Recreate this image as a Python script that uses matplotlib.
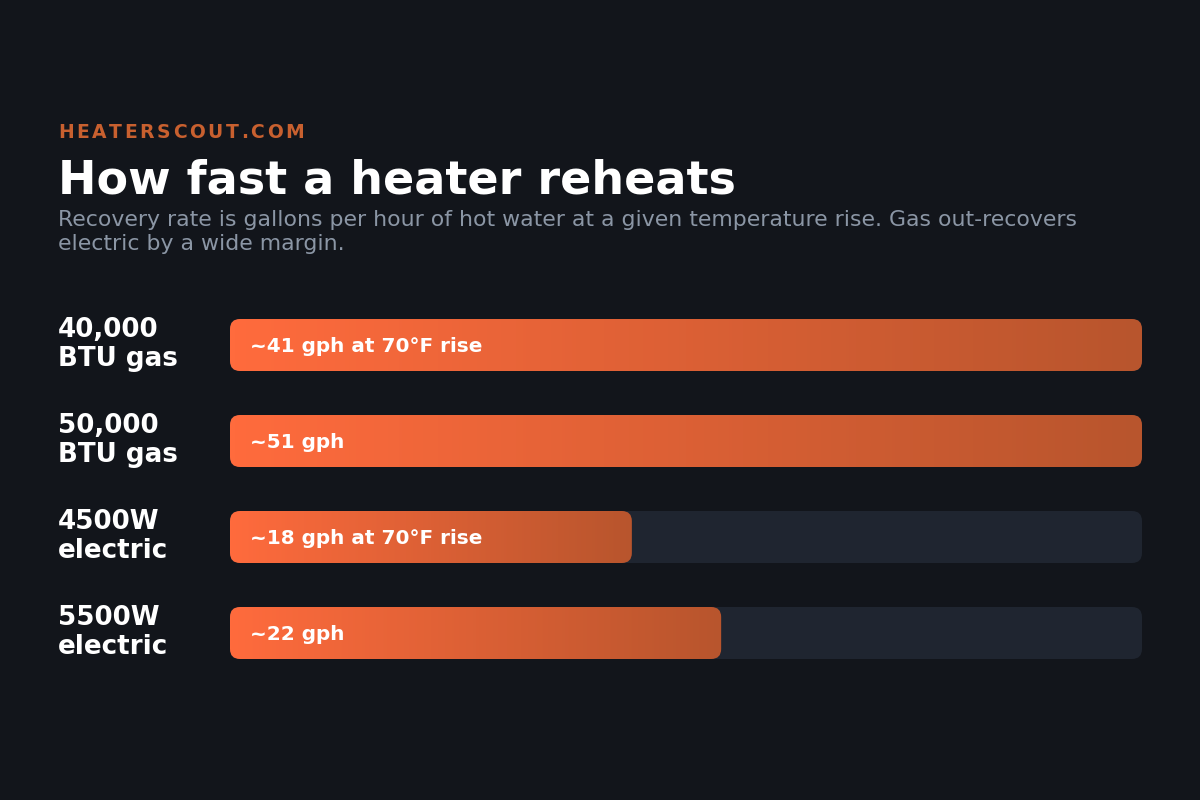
import matplotlib
matplotlib.use("Agg")
import matplotlib.pyplot as plt
import numpy as np
from matplotlib.patches import FancyBboxPatch
from matplotlib.colors import LinearSegmentedColormap

# ---- data ----
categories = ["40,000\nBTU gas", "50,000\nBTU gas", "4500W\nelectric", "5500W\nelectric"]
values = [41, 51, 18, 22]
bar_labels = ["~41 gph at 70°F rise", "~51 gph", "~18 gph at 70°F rise", "~22 gph"]
scale_max = 40.85

brand = "HEATERSCOUT.COM"
title = "How fast a heater reheats"
subtitle = ("Recovery rate is gallons per hour of hot water at a given temperature rise. Gas out-recovers\n"
            "electric by a wide margin.")

BG = "#12151b"
TRACK = "#1f2530"
C0 = "#ff6b3d"
C1 = "#b8552d"
BRAND_C = "#c8602f"
SUB_C = "#8b96a5"

W, H = 1200, 800
fig = plt.figure(figsize=(12, 8), dpi=100, facecolor=BG)

def fx(px):
    return px / W

def fy(py):
    return 1 - py / H

# brand with letter spacing
renderer = fig.canvas.get_renderer()
x = 58
for ch in brand:
    t = fig.text(fx(x), fy(138), ch, color=BRAND_C, fontsize=13.5, fontweight="bold",
                 ha="left", va="baseline", family="DejaVu Sans")
    bb = t.get_window_extent(renderer=renderer)
    x += bb.width + 2.6

fig.text(fx(58), fy(194), title, color="white", fontsize=33.1, fontweight="bold",
         ha="left", va="baseline", family="DejaVu Sans")
fig.text(fx(58), fy(250), subtitle, color=SUB_C, fontsize=15.8, ha="left", va="baseline",
         linespacing=1.27, family="DejaVu Sans")

# ---- bar axes ----
x0, x1 = 230, 1142
y_top, y_bot = 297, 681
ax = fig.add_axes([fx(x0), fy(y_bot), (x1 - x0) / W, (y_bot - y_top) / H])
ax.set_facecolor(BG)
ax.patch.set_alpha(0)
n = len(categories)
ax.set_xlim(0, scale_max)
ax.set_ylim(n, 0)
ax.axis("off")

px_per_x = (x1 - x0) / scale_max
px_per_y = (y_bot - y_top) / n
bar_h = 52 / px_per_y
r_px = 10
r_x = r_px / px_per_x
aspect = px_per_x / px_per_y

cmap = LinearSegmentedColormap.from_list("g", [C0, C1])
grad = np.linspace(0, 1, 256).reshape(1, -1)

for i, (cat, v, lab) in enumerate(zip(categories, values, bar_labels)):
    yc = i + 0.5
    track = FancyBboxPatch((0, yc - bar_h / 2), scale_max, bar_h,
                           boxstyle=f"round,pad=0,rounding_size={r_x}",
                           mutation_aspect=aspect, facecolor=TRACK, edgecolor="none",
                           clip_on=False)
    ax.add_patch(track)
    w = min(v, scale_max)
    bar = FancyBboxPatch((0, yc - bar_h / 2), w, bar_h,
                         boxstyle=f"round,pad=0,rounding_size={r_x}",
                         mutation_aspect=aspect, facecolor="none", edgecolor="none",
                         clip_on=False)
    ax.add_patch(bar)
    im = ax.imshow(grad, cmap=cmap, aspect="auto", interpolation="bilinear",
                   extent=(0, w, yc + bar_h / 2, yc - bar_h / 2), zorder=2)
    im.set_clip_path(bar)
    ax.text(20 / px_per_x, yc + 7 / px_per_y, lab, color="white", fontsize=14.4,
            fontweight="bold", ha="left", va="baseline", zorder=3, family="DejaVu Sans")
    # category label
    top, bot = cat.split("\n")
    fig.text(fx(58), fy(y_top + px_per_y * yc - 8), top, color="white", fontsize=18.8,
             fontweight="bold", ha="left", va="baseline", family="DejaVu Sans")
    fig.text(fx(58), fy(y_top + px_per_y * yc + 21), bot, color="white", fontsize=18.8,
             fontweight="bold", ha="left", va="baseline", family="DejaVu Sans")

ax.set_xlim(0, scale_max)
ax.set_ylim(n, 0)

fig.savefig("out.png", dpi=100, facecolor=BG)
